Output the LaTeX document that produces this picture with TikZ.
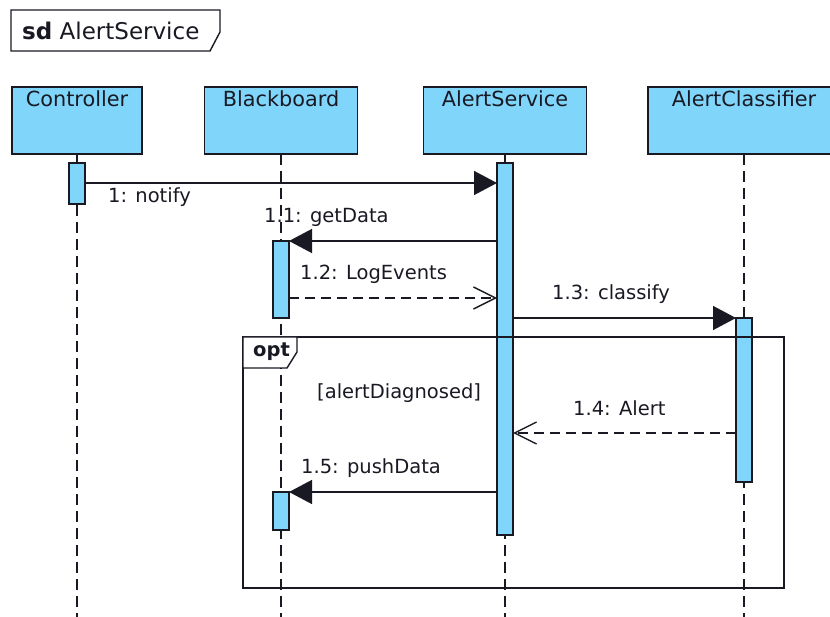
\documentclass[tikz,border=0pt]{standalone}
\usepackage{fontspec}
\setmainfont{DejaVu Sans}
\usetikzlibrary{arrows.meta,calc}
\definecolor{actfill}{RGB}{128,214,250}
\definecolor{ink}{RGB}{25,25,35}
\begin{document}
\begin{tikzpicture}[x=1pt,y=-1pt,
  font=\fontsize{19.5}{23}\selectfont,
  head/.style={draw=ink, fill=actfill, line width=1.4pt, minimum height=67pt,
    inner ysep=0pt, text height=20pt, text depth=47pt, text=ink, outer sep=0pt,
    font=\fontsize{20.8}{24}\selectfont},
  actbar/.style={draw=ink, fill=actfill, line width=1.4pt, minimum width=16pt,
    inner sep=0pt, outer sep=0pt},
  lifeline/.style={draw=ink, line width=1.3pt, dash pattern=on 11pt off 6pt},
  call/.style={draw=ink, line width=1.4pt, -{Triangle[length=23pt,width=24pt]}},
  reply/.style={draw=ink, line width=1.4pt, dash pattern=on 10pt off 6pt,
    -{Straight Barb[length=22pt,width=22pt,line width=1.4pt]}},
  msglabel/.style={anchor=base west, inner sep=0pt, text=ink},
  framebox/.style={draw=ink, line width=1.4pt}]
\useasboundingbox (0,0) rectangle (830,617);
\clip (0,0) rectangle (830,617);

% diagram frame tag
\draw[framebox, fill=white] (11,10) -- (220,10) -- (220,32) -- (210,51) -- (11,51) -- cycle;
\node[msglabel, font=\fontsize{23}{26}\selectfont] (sdtag) at (22,40) {\textbf{sd} AlertService};

% lifeline heads
\node[head, minimum width=130pt] (hC) at (77,120.5) {Controller};
\node[head, minimum width=153pt] (hB) at (281,120.5) {Blackboard};
\node[head, minimum width=163pt] (hS) at (505,120.5) {AlertService};
\node[head, minimum width=192pt] (hA) at (744,120.5) {AlertClassifier};

% lifelines
\coordinate (bottom) at (0,625);
\foreach \h in {hC,hB,hS,hA}
  \draw[lifeline] (\h.south) -- (\h.south |- bottom);

% activation bars
\node[actbar, minimum height=41pt]  (aC)  at (77,183.5) {};
\node[actbar, minimum height=372pt] (aS)  at (505,349) {};
\node[actbar, minimum height=77pt]  (aB1) at (281,279.5) {};
\node[actbar, minimum height=38pt]  (aB2) at (281,511) {};
\node[actbar, minimum height=164pt] (aA)  at (744,400) {};

% message levels
\coordinate (m1)  at (0,183);
\coordinate (m11) at (0,241);
\coordinate (m12) at (0,298);
\coordinate (m13) at (0,318);
\coordinate (m14) at (0,433);
\coordinate (m15) at (0,492);

% messages
\draw[call]  (aC.east |- m1)  -- (aS.west |- m1);
\draw[call]  (aS.west |- m11) -- (aB1.east |- m11);
\draw[reply] (aB1.east |- m12) -- (aS.west |- m12);
\draw[call]  (aS.east |- m13) -- (aA.west |- m13);
\draw[reply] (aA.west |- m14) -- (aS.east |- m14);
\draw[call]  (aS.west |- m15) -- (aB2.east |- m15);

% message labels
\node[msglabel] (l1)  at (108,203) {1: notify};
\node[msglabel] (l11) at (264,223) {1.1: getData};
\node[msglabel] (l12) at (300,280) {1.2: LogEvents};
\node[msglabel] (l13) at (552,300) {1.3: classify};
\node[msglabel] (l14) at (573,415) {1.4: Alert};
\node[msglabel] (l15) at (301,473) {1.5: pushData};

% optional fragment
\node[framebox, minimum width=541pt, minimum height=251pt, inner sep=0pt,
  outer sep=0pt] (opt) at (513.5,462.5) {};
\draw[framebox, fill=white] (opt.north west) -- ++(54,0) -- ++(0,15)
  -- ++(-10,16) -- ++(-44,0) -- cycle;
\node[msglabel] (optlbl) at (253,357) {\textbf{opt}};
\node[msglabel] (guard) at (317,399) {[alertDiagnosed]};
\end{tikzpicture}
\end{document}
